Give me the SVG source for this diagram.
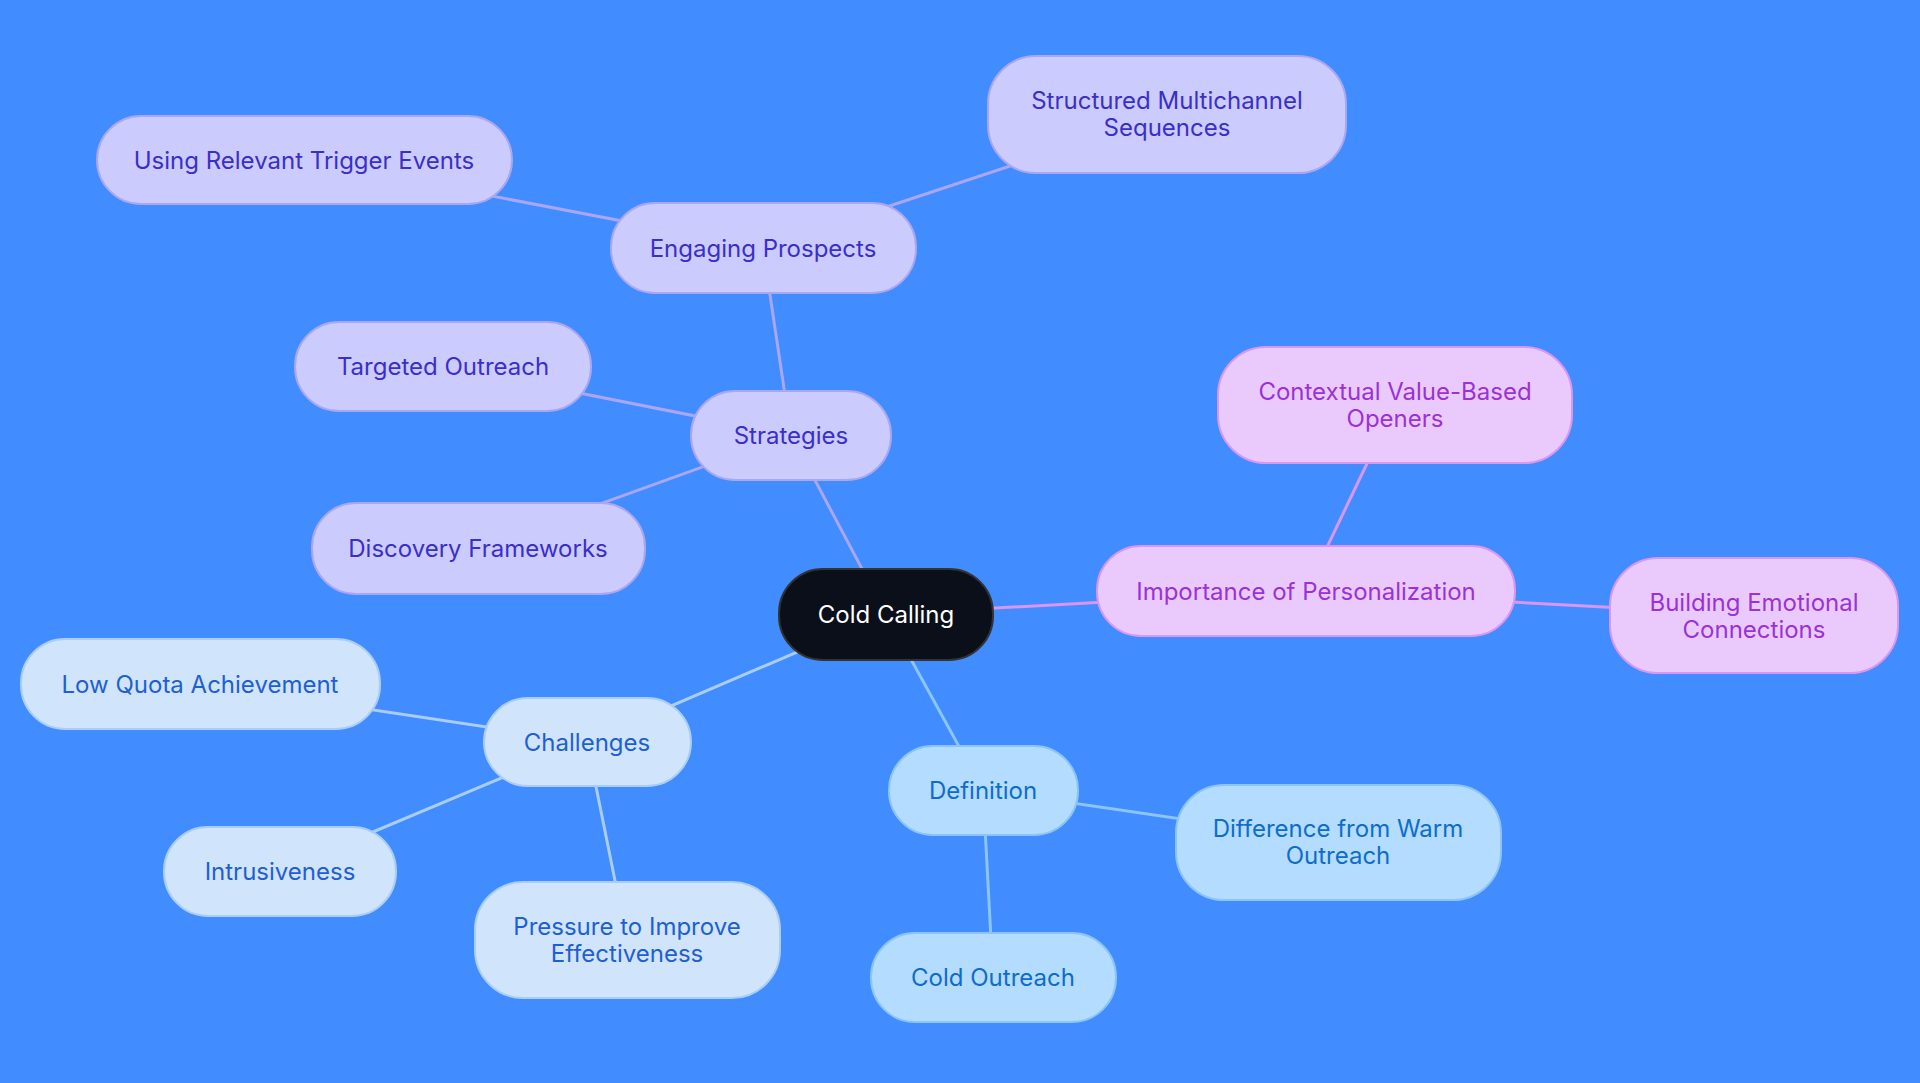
<svg xmlns="http://www.w3.org/2000/svg" width="1920" height="1083" viewBox="0 0 1920 1083">
<style>
text{font-family:Inter,"Noto Sans",sans-serif;font-size:24px;text-anchor:middle;dominant-baseline:central}
.s rect{fill:#cbcbfd;stroke:#a9a6f2;stroke-width:2}.s text{fill:#3a2fc7}
.p rect{fill:#eacafc;stroke:#d996f2;stroke-width:2}.p text{fill:#9a32d6}
.c rect{fill:#d0e4fb;stroke:#a9cdf6;stroke-width:2}.c text{fill:#1f60cf}
.d rect{fill:#b3dcff;stroke:#8cc4f4;stroke-width:2}.d text{fill:#0f6dc7}
.ls{stroke:#a9a6f2}.lp{stroke:#d996f2}.lc{stroke:#a9cdf6}.ld{stroke:#8cc4f4}
#edges line{stroke-width:3}
</style>
<rect width="1920" height="1083" fill="#418cff"/>
<g id="edges">
<line class="ls" x1="886" y1="614" x2="791" y2="435"/>
<line class="ls" x1="791" y1="435" x2="763" y2="248"/>
<line class="ls" x1="763" y1="248" x2="304" y2="160"/>
<line class="ls" x1="763" y1="248" x2="1167" y2="114"/>
<line class="ls" x1="791" y1="435" x2="443" y2="366"/>
<line class="ls" x1="791" y1="435" x2="478" y2="548"/>
<line class="lp" x1="886" y1="614" x2="1306" y2="591"/>
<line class="lp" x1="1306" y1="591" x2="1395" y2="405"/>
<line class="lp" x1="1306" y1="591" x2="1754" y2="615"/>
<line class="lc" x1="886" y1="614" x2="587" y2="742"/>
<line class="lc" x1="587" y1="742" x2="200" y2="684"/>
<line class="lc" x1="587" y1="742" x2="280" y2="871"/>
<line class="lc" x1="587" y1="742" x2="627" y2="940"/>
<line class="ld" x1="886" y1="614" x2="983" y2="790"/>
<line class="ld" x1="983" y1="790" x2="1338" y2="842"/>
<line class="ld" x1="983" y1="790" x2="993" y2="977"/>
</g>
<g id="cold"><rect x="779" y="569" width="214" height="91" rx="44" fill="#0b0f19" stroke="#333" stroke-width="2"/><text x="886" y="614" fill="#fff">Cold Calling</text></g>
<g id="strategies" class="s"><rect x="691" y="391" width="200" height="89" rx="44"/><text x="791" y="435">Strategies</text></g>
<g id="engaging" class="s"><rect x="611" y="203" width="305" height="90" rx="44"/><text x="763" y="248">Engaging Prospects</text></g>
<g id="trigger" class="s"><rect x="97" y="116" width="415" height="88" rx="44"/><text x="304" y="160">Using Relevant Trigger Events</text></g>
<g id="structured" class="s"><rect x="988" y="56" width="358" height="117" rx="48"/><text x="1167" y="100">Structured Multichannel</text><text x="1167" y="127">Sequences</text></g>
<g id="targeted" class="s"><rect x="295" y="322" width="296" height="89" rx="44"/><text x="443" y="366">Targeted Outreach</text></g>
<g id="discovery" class="s"><rect x="312" y="503" width="333" height="91" rx="44"/><text x="478" y="548">Discovery Frameworks</text></g>
<g id="personalization" class="p"><rect x="1097" y="546" width="418" height="90" rx="44"/><text x="1306" y="591">Importance of Personalization</text></g>
<g id="contextual" class="p"><rect x="1218" y="347" width="354" height="116" rx="48"/><text x="1395" y="391">Contextual Value-Based</text><text x="1395" y="418">Openers</text></g>
<g id="emotional" class="p"><rect x="1610" y="558" width="288" height="115" rx="48"/><text x="1754" y="602">Building Emotional</text><text x="1754" y="629">Connections</text></g>
<g id="challenges" class="c"><rect x="484" y="698" width="207" height="88" rx="44"/><text x="587" y="742">Challenges</text></g>
<g id="lowquota" class="c"><rect x="21" y="639" width="359" height="90" rx="44"/><text x="200" y="684">Low Quota Achievement</text></g>
<g id="intrusiveness" class="c"><rect x="164" y="827" width="232" height="89" rx="44"/><text x="280" y="871">Intrusiveness</text></g>
<g id="pressure" class="c"><rect x="475" y="882" width="305" height="116" rx="48"/><text x="627" y="926">Pressure to Improve</text><text x="627" y="953">Effectiveness</text></g>
<g id="definition" class="d"><rect x="889" y="746" width="189" height="89" rx="44"/><text x="983" y="790">Definition</text></g>
<g id="difference" class="d"><rect x="1176" y="785" width="325" height="115" rx="48"/><text x="1338" y="828">Difference from Warm</text><text x="1338" y="855">Outreach</text></g>
<g id="coldoutreach" class="d"><rect x="871" y="933" width="245" height="89" rx="44"/><text x="993" y="977">Cold Outreach</text></g>
</svg>
